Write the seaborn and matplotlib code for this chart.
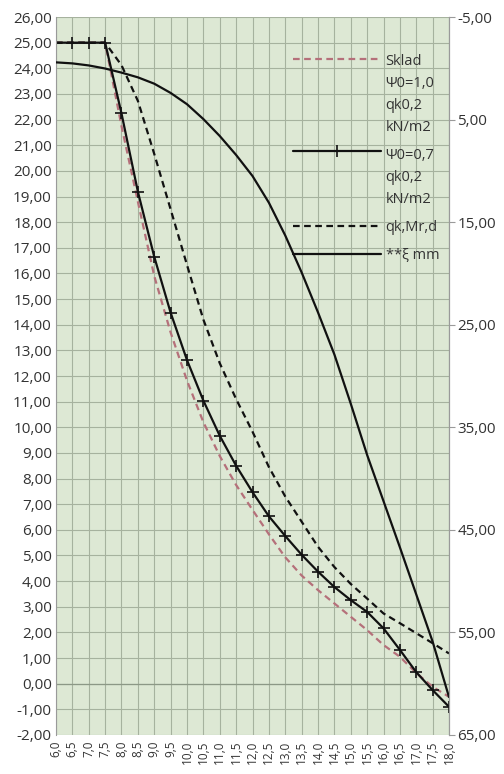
import numpy as np
import pandas as pd
import matplotlib
matplotlib.use('Agg')
import matplotlib.pyplot as plt
import seaborn as sns
from matplotlib.ticker import FuncFormatter, MultipleLocator
from matplotlib.legend_handler import HandlerLine2D
from matplotlib.font_manager import FontProperties

# span values on the category axis
span = [6.0, 6.5, 7.0, 7.5, 8.0, 8.5, 9.0, 9.5, 10.0, 10.5, 11.0, 11.5, 12.0,
        12.5, 13.0, 13.5, 14.0, 14.5, 15.0, 15.5, 16.0, 16.5, 17.0, 17.5, 18.0]

# left axis series
sklad = [25.0, 25.0, 25.0, 25.0, 21.75, 18.80, 15.90, 13.70, 11.82, 10.20, 8.88, 7.75, 6.78,
         5.83, 4.93, 4.22, 3.65, 3.13, 2.61, 2.09, 1.51, 1.05, 0.42, -0.12, -0.51]
psi07 = [25.0, 25.0, 25.0, 25.0, 22.24, 19.19, 16.65, 14.47, 12.62, 11.04, 9.67, 8.50, 7.47,
         6.53, 5.76, 5.03, 4.37, 3.77, 3.26, 2.80, 2.16, 1.32, 0.45, -0.25, -0.90]
qk_mrd = [25.0, 25.0, 25.0, 25.0, 24.12, 22.73, 20.66, 18.50, 16.33, 14.20, 12.50, 11.10, 9.83,
          8.45, 7.30, 6.32, 5.34, 4.55, 3.89, 3.32, 2.74, 2.36, 1.97, 1.58, 1.18]

# right axis series (deflection, mm)
xi_mm = [-0.58, -0.48, -0.28, 0.02, 0.42, 0.88, 1.50, 2.40, 3.50, 4.95, 6.60, 8.45, 10.50,
         13.10, 16.30, 19.90, 23.80, 27.90, 32.70, 37.70, 42.20, 46.70, 51.30, 55.90, 61.30]

labels = ['Sklad\nΨ0=1,0\nqk0,2\nkN/m2', 'Ψ0=0,7\nqk0,2\nkN/m2', 'qk,Mr,d', '**ξ mm']
right_ticks = [-5, 5, 15, 25, 35, 45, 55, 65]

df = pd.DataFrame({'span': span, 'sklad': sklad, 'psi07': psi07,
                   'qk_mrd': qk_mrd, 'xi_mm': xi_mm})

sns.set_style('white')
plt.rcParams['font.family'] = ['Open Sans', 'DejaVu Sans']
plt.rcParams['text.color'] = '#333333'
plt.rcParams['xtick.color'] = '#333333'
plt.rcParams['ytick.color'] = '#333333'

BG = '#dde8d4'
GRID = '#a6b29e'
ROSY = '#b5707a'
INK = '#111111'
LEG_FS = 10.5
LEG_LS = 1.63

fig = plt.figure(figsize=(5.04, 7.74), dpi=100)
ax = fig.add_axes([0.1111, 0.0504, 0.7798, 0.9276])
ax.set_facecolor(BG)

sns.lineplot(data=df, x='span', y='sklad', ax=ax, color=ROSY, lw=1.6,
             linestyle=(0, (3.0, 2.0)), label=labels[0], legend=False)
sns.lineplot(data=df, x='span', y='psi07', ax=ax, color=INK, lw=1.6,
             marker='+', markersize=8, markeredgewidth=1.2, markeredgecolor=INK,
             label=labels[1], legend=False)
sns.lineplot(data=df, x='span', y='qk_mrd', ax=ax, color=INK, lw=1.6,
             linestyle=(0, (3.0, 2.0)), label=labels[2], legend=False)

ax.set_xlim(6, 18)
ax.set_ylim(-2, 26)
ax.xaxis.set_major_locator(MultipleLocator(0.5))
ax.yaxis.set_major_locator(MultipleLocator(1))
ax.xaxis.set_major_formatter(FuncFormatter(lambda v, p: f'{v:.1f}'.replace('.', ',')))
ax.yaxis.set_major_formatter(FuncFormatter(lambda v, p: f'{v:.2f}'.replace('.', ',')))
ax.tick_params(axis='x', labelrotation=90, labelsize=8.5, length=0, pad=4)
ax.tick_params(axis='y', labelsize=11, length=0, pad=3)
ax.grid(True, color=GRID, lw=0.8)
ax.axhline(0, color='#8c9886', lw=0.9, zorder=1)
ax.set_xlabel('')
ax.set_ylabel('')
for s in ['top', 'bottom']:
    ax.spines[s].set_visible(False)
for s in ['left', 'right']:
    ax.spines[s].set_color('#9a9a9a')
    ax.spines[s].set_linewidth(0.8)

# deflection on the secondary (inverted) axis
ax2 = ax.twinx()
sns.lineplot(data=df, x='span', y='xi_mm', ax=ax2, color=INK, lw=1.6,
             label=labels[3], legend=False)
ax2.set_ylim(65, -5)
ax2.set_yticks(right_ticks)
ax2.yaxis.set_major_formatter(FuncFormatter(lambda v, p: f'{v:.2f}'.replace('.', ',')))
ax2.tick_params(axis='y', labelsize=11, length=4, color='#9a9a9a', pad=2)
ax2.set_ylabel('')
ax2.grid(False)
for s in ['top', 'bottom', 'left']:
    ax2.spines[s].set_visible(False)
ax2.spines['right'].set_color('#9a9a9a')
ax2.spines['right'].set_linewidth(0.8)

# legend: handle sits on the first line of a multi-line label (Excel style)
renderer = fig.canvas.get_renderer()
_, lp_h, lp_d = renderer.get_text_width_height_descent(
    'lp', FontProperties(family=['Open Sans', 'DejaVu Sans'], size=LEG_FS), ismath=False)
step_pt = (lp_h - lp_d) * LEG_LS * 72 / fig.dpi * 0.75


class FirstLineHandler(HandlerLine2D):
    def __init__(self, extra_lines, **kw):
        super().__init__(**kw)
        self.extra_lines = extra_lines

    def create_artists(self, legend, orig_handle, xdescent, ydescent,
                       width, height, fontsize, trans):
        arts = super().create_artists(legend, orig_handle, xdescent, ydescent,
                                      width, height, fontsize, trans)
        for a in arts:
            a.set_ydata(np.asarray(a.get_ydata()) + self.extra_lines * step_pt)
        return arts


handles = [ax.lines[0], ax.lines[1], ax.lines[2], ax2.lines[0]]
leg = ax2.legend(handles, labels, loc='upper left', frameon=False,
                 bbox_to_anchor=(293 / 504, 1 - 54 / 774), bbox_transform=fig.transFigure,
                 fontsize=LEG_FS, handlelength=6.0, handletextpad=0.35,
                 labelspacing=0.9, borderpad=0, borderaxespad=0, numpoints=1,
                 handler_map={handles[0]: FirstLineHandler(2.65), handles[1]: FirstLineHandler(2)})
for t in leg.get_texts():
    t.set_linespacing(LEG_LS)

fig.savefig('out.png', dpi=100)
